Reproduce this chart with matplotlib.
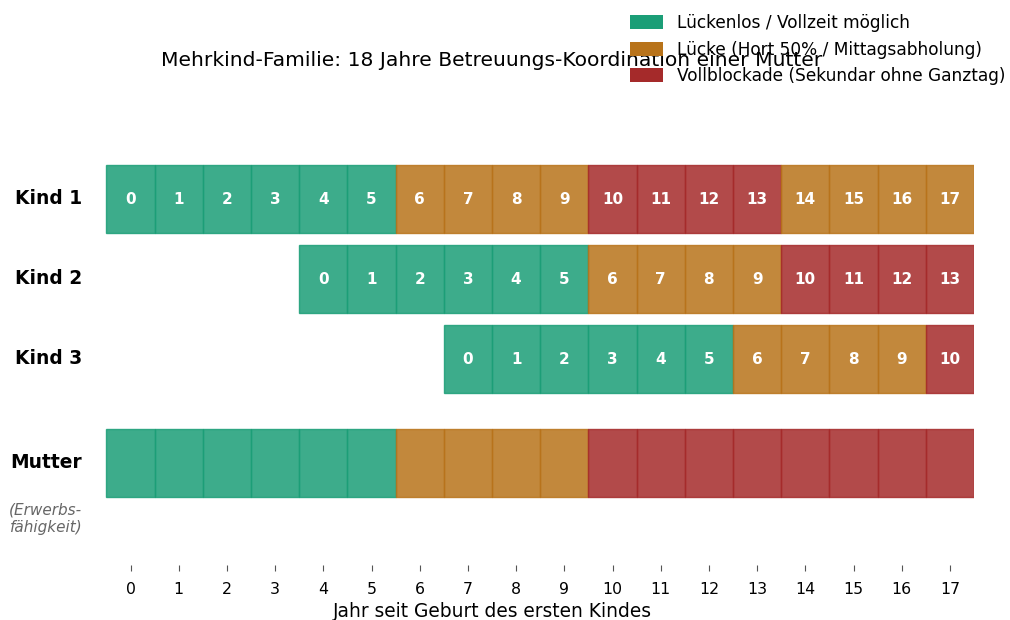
import matplotlib
matplotlib.use("Agg")
import matplotlib.pyplot as plt
from matplotlib.patches import Patch

# ---- data ----
rows = ["Kind 1", "Kind 2", "Kind 3", "Mutter"]
row_y = [3, 2, 1, -0.3]
start_year = [0, 4, 7, 0]
# status per cell: G = lückenlos, O = Lücke, R = Vollblockade
status_kind1 = ["G"] * 6 + ["O"] * 4 + ["R"] * 4 + ["O"] * 4
status_kind2 = ["G"] * 6 + ["O"] * 4 + ["R"] * 4
status_kind3 = ["G"] * 6 + ["O"] * 4 + ["R"] * 1
status_mutter = ["G"] * 6 + ["O"] * 4 + ["R"] * 8
statuses = [status_kind1, status_kind2, status_kind3, status_mutter]
show_age = [True, True, True, False]

years = list(range(18))
colors = {"G": "#1b9e77", "O": "#b8731a", "R": "#a52a2a"}
legend_labels = {
    "G": "Lückenlos / Vollzeit möglich",
    "O": "Lücke (Hort 50% / Mittagsabholung)",
    "R": "Vollblockade (Sekundar ohne Ganztag)",
}
title = "Mehrkind-Familie: 18 Jahre Betreuungs-Koordination einer Mutter"
xlabel = "Jahr seit Geburt des ersten Kindes"

fig = plt.figure(figsize=(10.1, 6.2), dpi=100)
ax = fig.add_axes([10 / 1010, 1 - 565 / 620, (974 - 10) / 1010, (565 - 133) / 620])

for y, start, st, show in zip(row_y, start_year, statuses, show_age):
    for age, s in enumerate(st):
        x = start + age
        ax.bar(x, 0.86, bottom=y - 0.43, width=1.0, color=colors[s], alpha=0.85,
               edgecolor=colors[s], linewidth=1.0)
        if show:
            ax.text(x, y, str(age), ha="center", va="center", color="white",
                    fontsize=11, fontweight="bold")

for y, name in zip(row_y, rows):
    ax.text(-1.0, y, name, ha="right", va="center", fontsize=13.4, fontweight="bold")
ax.text(-1.0, -1.0, "(Erwerbs-\nfähigkeit)", ha="right", va="center",
        fontsize=11, style="italic", color="#666666")

ax.set_xlim(-2.5, 17.5)
ax.set_ylim(-1.575, 3.825)
ax.set_xticks(years)
ax.set_xticklabels([str(v) for v in years], fontsize=11.3)
ax.tick_params(axis="x", length=4, color="#555555", pad=8)
ax.set_yticks([])
for sp in ax.spines.values():
    sp.set_visible(False)
ax.set_xlabel(xlabel, fontsize=13.4, labelpad=4)

fig.text(492 / 1010, 1 - 60 / 620, title, ha="center", va="center", fontsize=14.6)

handles = [Patch(facecolor=colors[k], edgecolor="none", label=legend_labels[k]) for k in ["G", "O", "R"]]
fig.legend(handles=handles, loc="upper left", bbox_to_anchor=(630 / 1010, 1 - 14 / 620),
           frameon=False, borderaxespad=0, borderpad=0, fontsize=12.25,
           handlelength=1.96, handleheight=0.9, labelspacing=0.5, handletextpad=0.78)

fig.savefig("out.png", dpi=100)
